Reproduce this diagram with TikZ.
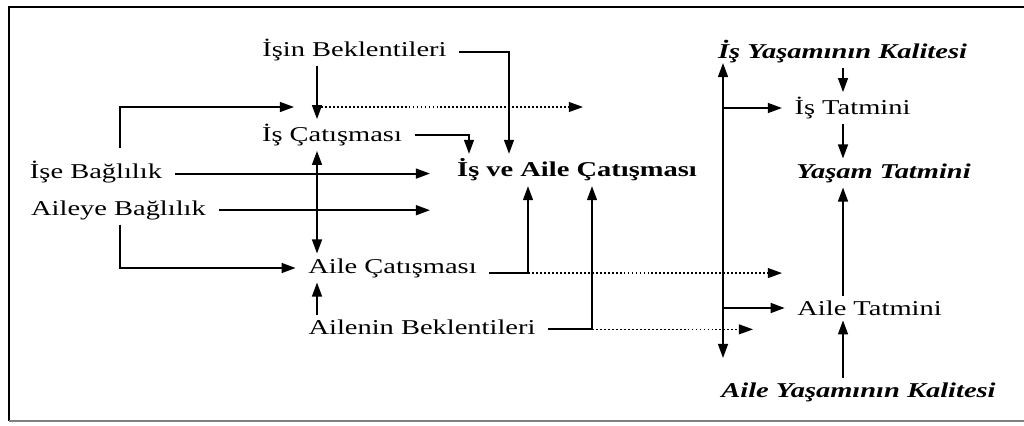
\documentclass[tikz,border=0pt]{standalone}
\usepackage{fontspec}
\setmainfont{Liberation Serif}[FakeStretch=1.35]
\usetikzlibrary{arrows.meta}

\begin{document}
\begin{tikzpicture}[x=0.015cm,y=-0.015cm,line width=0.8pt,
    every node/.style={inner xsep=5pt,inner ysep=1.7pt},
    link/.style={-{Triangle[length=6pt,width=4.2pt]}},
    twoway/.style={{Triangle[length=6pt,width=4.2pt]}-{Triangle[length=6pt,width=4.2pt]}},
    dotlink/.style={link,line width=0.6pt,dash pattern=on 0.8pt off 0.9pt}]
      \fontsize{9}{11}\selectfont
      \useasboundingbox (0,0) rectangle (1024,425);
      \draw (1024,7) -- (9,7) -- (9,421);
      \draw[gray] (9,421) -- (1024,421);

      \draw (354.5,50) node(ib) {İşin Beklentileri};
      \draw (332,135) node(ic) {İş Çatışması};
      \draw (96,172) node(ik) {İşe Bağlılık};
      \draw (118.5,210) node(ab) {Aileye Bağlılık};
      \draw (392.5,268) node(ac) {Aile Çatışması};
      \draw (422,327) node(ae) {Ailenin Beklentileri};
      \draw (577,170) node(iac) {\textbf{İş ve Aile Çatışması}};

      \draw (842.5,52) node(iyk) {\textbf{\textit{İş Yaşamının Kalitesi}}};
      \draw (852.5,108) node(it) {İş Tatmini};
      \draw (883.5,173) node(yt) {\textbf{\textit{Yaşam Tatmini}}};
      \draw (869.5,308) node(at) {Aile Tatmini};
      \draw (858.5,392) node(ayk) {\textbf{\textit{Aile Yaşamının Kalitesi}}};

      \coordinate (kL) at (120,0);
      \coordinate (kC) at (317,0);
      \coordinate (kE) at (430,0);
      \coordinate (kD) at (469,0);
      \coordinate (kB) at (509,0);
      \coordinate (kF) at (528,0);
      \coordinate (kG) at (592,0);
      \coordinate (kR) at (843,0);
      \coordinate (dIb) at (583,107);
      \coordinate (pIk) at (294,107);
      \coordinate (sIk) at (120,148);
      \coordinate (dAc) at (782,0);
      \coordinate (dAe) at (753,0);
      \coordinate (vTop) at (723,63);
      \coordinate (vBot) at (723,358);

      \draw[link] (ib.mid east) -| (iac.north -| kB);
      \draw[link] (ib.south -| kC) -- (ic.north -| kC);
      \draw[dotlink] (kC |- dIb) -- (dIb);
      \draw[link] (sIk) |- (pIk);
      \draw[link] (ic.east) -| (iac.north -| kD);
      \draw[twoway] (ic.south -| kC) -- (ac.north -| kC);
      \draw[link] (ik.mid east) -- (ik.mid east -| kE);
      \draw[link] (ab.mid east) -- (ab.mid east -| kE);
      \draw[link] (ab.south -| kL) |- (ac.west);
      \draw[link] (ae.north -| kC) -- (ac.south -| kC);
      \draw[link] (ac.base east) -| (iac.south -| kF);
      \draw[dotlink] (kF |- ac.base east) -- (dAc |- ac.base east);
      \draw[link] (ae.mid east) -| (iac.south -| kG);
      \draw[dotlink] (kG |- ae.mid east) -- (dAe |- ae.mid east);

      \draw[twoway] (vTop) -- (vBot);
      \draw[link] (vTop |- it.west) -- (it.west);
      \draw[link] (vTop |- at.west) -- (at.west);
      \draw[link] (iyk.south -| kR) -- (it.north -| kR);
      \draw[link] (it.south -| kR) -- (yt.north -| kR);
      \draw[link] (at.north -| kR) -- (yt.south -| kR);
      \draw[link] (ayk.north -| kR) -- (at.south -| kR);
    \end{tikzpicture}
\end{document}
